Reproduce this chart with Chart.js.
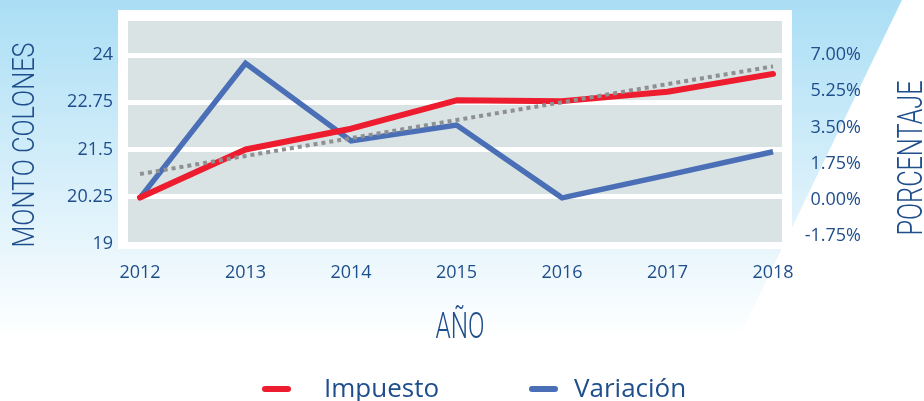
<!DOCTYPE html>
<html>
<head>
<meta charset="utf-8">
<script src="https://cdn.jsdelivr.net/npm/chart.js@4.4.1/dist/chart.umd.min.js"></script>
<style>
  html, body { margin: 0; padding: 0; background: #fff; }
  #wrap { width: 924px; height: 401px; }
</style>
</head>
<body>
<div id="wrap"><canvas id="chart" width="924" height="401"></canvas></div>
<script>
const years = [2012, 2013, 2014, 2015, 2016, 2017, 2018];
const impuesto = [20.23, 21.5, 22.05, 22.8, 22.78, 23.03, 23.5];
const variacion = [0.1, 6.6, 2.85, 3.62, 0.1, 1.2, 2.33];
const tendencia = [20.85, 21.33, 21.8, 22.28, 22.75, 23.23, 23.7];
const montoTicks = [19, 20.25, 21.5, 22.75, 24];
const porcentajeTicks = [-1.75, 0, 1.75, 3.5, 5.25, 7];

const TEXT = '#1f4e8c';
const pts = ys => years.map((x, i) => ({ x, y: ys[i] }));

// light blue backdrop, white frame and grey plot area
const backdrop = {
  id: 'backdrop',
  beforeDraw(chart) {
    const { ctx, chartArea: a } = chart;
    ctx.save();
    const g = ctx.createLinearGradient(0, 0, 0, 335);
    g.addColorStop(0, '#aadef5');
    g.addColorStop(0.75, '#e9f6fc');
    g.addColorStop(1, '#feffff');
    ctx.fillStyle = g;
    ctx.beginPath();
    ctx.moveTo(0, 0); ctx.lineTo(902, 0); ctx.lineTo(740, 335); ctx.lineTo(0, 335);
    ctx.closePath();
    ctx.fill();
    ctx.fillStyle = '#fff';
    ctx.fillRect(a.left - 10, a.top - 11, a.right - a.left + 20, a.bottom - a.top + 16);
    ctx.fillStyle = '#d9e3e3';
    ctx.fillRect(a.left, a.top, a.right - a.left, a.bottom - a.top);
    ctx.restore();
  }
};

// thin condensed axis titles
function condensed(ctx, text, cx, cy, len, size, rot) {
  ctx.save();
  ctx.translate(cx, cy);
  ctx.rotate(rot);
  ctx.font = '300 ' + size + 'px Roboto';
  const w = ctx.measureText(text).width;
  ctx.scale(len / w, 1);
  ctx.fillStyle = TEXT;
  ctx.textAlign = 'center';
  ctx.textBaseline = 'alphabetic';
  ctx.fillText(text, 0, size * 0.355);
  ctx.restore();
}

const titles = {
  id: 'titles',
  afterDraw(chart) {
    const ctx = chart.ctx;
    condensed(ctx, 'MONTO COLONES', 23, 145, 205, 32, -Math.PI / 2);
    condensed(ctx, 'PORCENTAJE', 910, 158, 155, 35, -Math.PI / 2);
    condensed(ctx, 'AÑO', 460, 325, 49, 36, 0);

    // legend
    const items = [{ ds: 0, mark: 265, text: 324 }, { ds: 1, mark: 532, text: 574 }];
    items.forEach(it => {
      const d = chart.data.datasets[it.ds];
      ctx.save();
      ctx.strokeStyle = d.borderColor;
      ctx.lineWidth = 6;
      ctx.lineCap = 'round';
      ctx.beginPath();
      ctx.moveTo(it.mark, 389); ctx.lineTo(it.mark + 23, 389);
      ctx.stroke();
      ctx.fillStyle = TEXT;
      ctx.font = '26px "Open Sans"';
      ctx.textBaseline = 'alphabetic';
      ctx.fillText(d.label, it.text, 397);
      ctx.restore();
    });
  }
};

const tickFont = { family: 'Open Sans', size: 18 };
const noPad = s => { s.paddingTop = 0; s.paddingBottom = 0; };

new Chart(document.getElementById('chart'), {
  type: 'line',
  data: {
    datasets: [
      { label: 'Impuesto', data: pts(impuesto), yAxisID: 'y', borderColor: '#ed1c2e', borderWidth: 6,
        borderJoinStyle: 'round', borderCapStyle: 'round', pointRadius: 0, order: 1 },
      { label: 'Variación', data: pts(variacion), yAxisID: 'y1', borderColor: '#4a6fb7', borderWidth: 5.5,
        borderJoinStyle: 'miter', pointRadius: 0, order: 2 },
      { label: 'Tendencia', data: pts(tendencia), yAxisID: 'y', borderColor: '#8e9092', borderWidth: 4,
        borderDash: [4, 4], pointRadius: 0, order: 0 }
    ]
  },
  options: {
    responsive: false,
    animation: false,
    devicePixelRatio: 1,
    layout: { padding: { top: 21, left: 0, right: 63, bottom: 0 } },
    plugins: { legend: { display: false }, tooltip: { enabled: false } },
    scales: {
      x: {
        type: 'linear', min: 2011.886, max: 2018.085,
        afterBuildTicks: s => { s.ticks = years.map(v => ({ value: v })); },
        afterFit: s => { s.height = 157; },
        grid: { display: false, drawTicks: false },
        border: { display: false },
        ticks: { padding: 18, color: TEXT, font: tickFont, autoSkip: false, maxRotation: 0, callback: v => String(v) }
      },
      y: {
        position: 'left', min: 19, max: 24.9,
        afterBuildTicks: s => { s.ticks = montoTicks.map(v => ({ value: v })); },
        afterFit: s => { s.width = 128; noPad(s); },
        grid: { color: '#ffffff', lineWidth: 5, drawTicks: false },
        border: { display: false },
        ticks: { padding: 15, color: TEXT, font: tickFont, callback: v => String(v) }
      },
      y1: {
        position: 'right', min: -2.13, max: 8.65,
        afterBuildTicks: s => { s.ticks = porcentajeTicks.map(v => ({ value: v })); },
        afterFit: s => { s.width = 79; noPad(s); },
        grid: { display: false, drawTicks: false },
        border: { display: false },
        ticks: { padding: -9, crossAlign: 'far', color: TEXT, font: tickFont, callback: v => v.toFixed(2) + '%' }
      }
    }
  },
  plugins: [backdrop, titles]
});
</script>
</body>
</html>
